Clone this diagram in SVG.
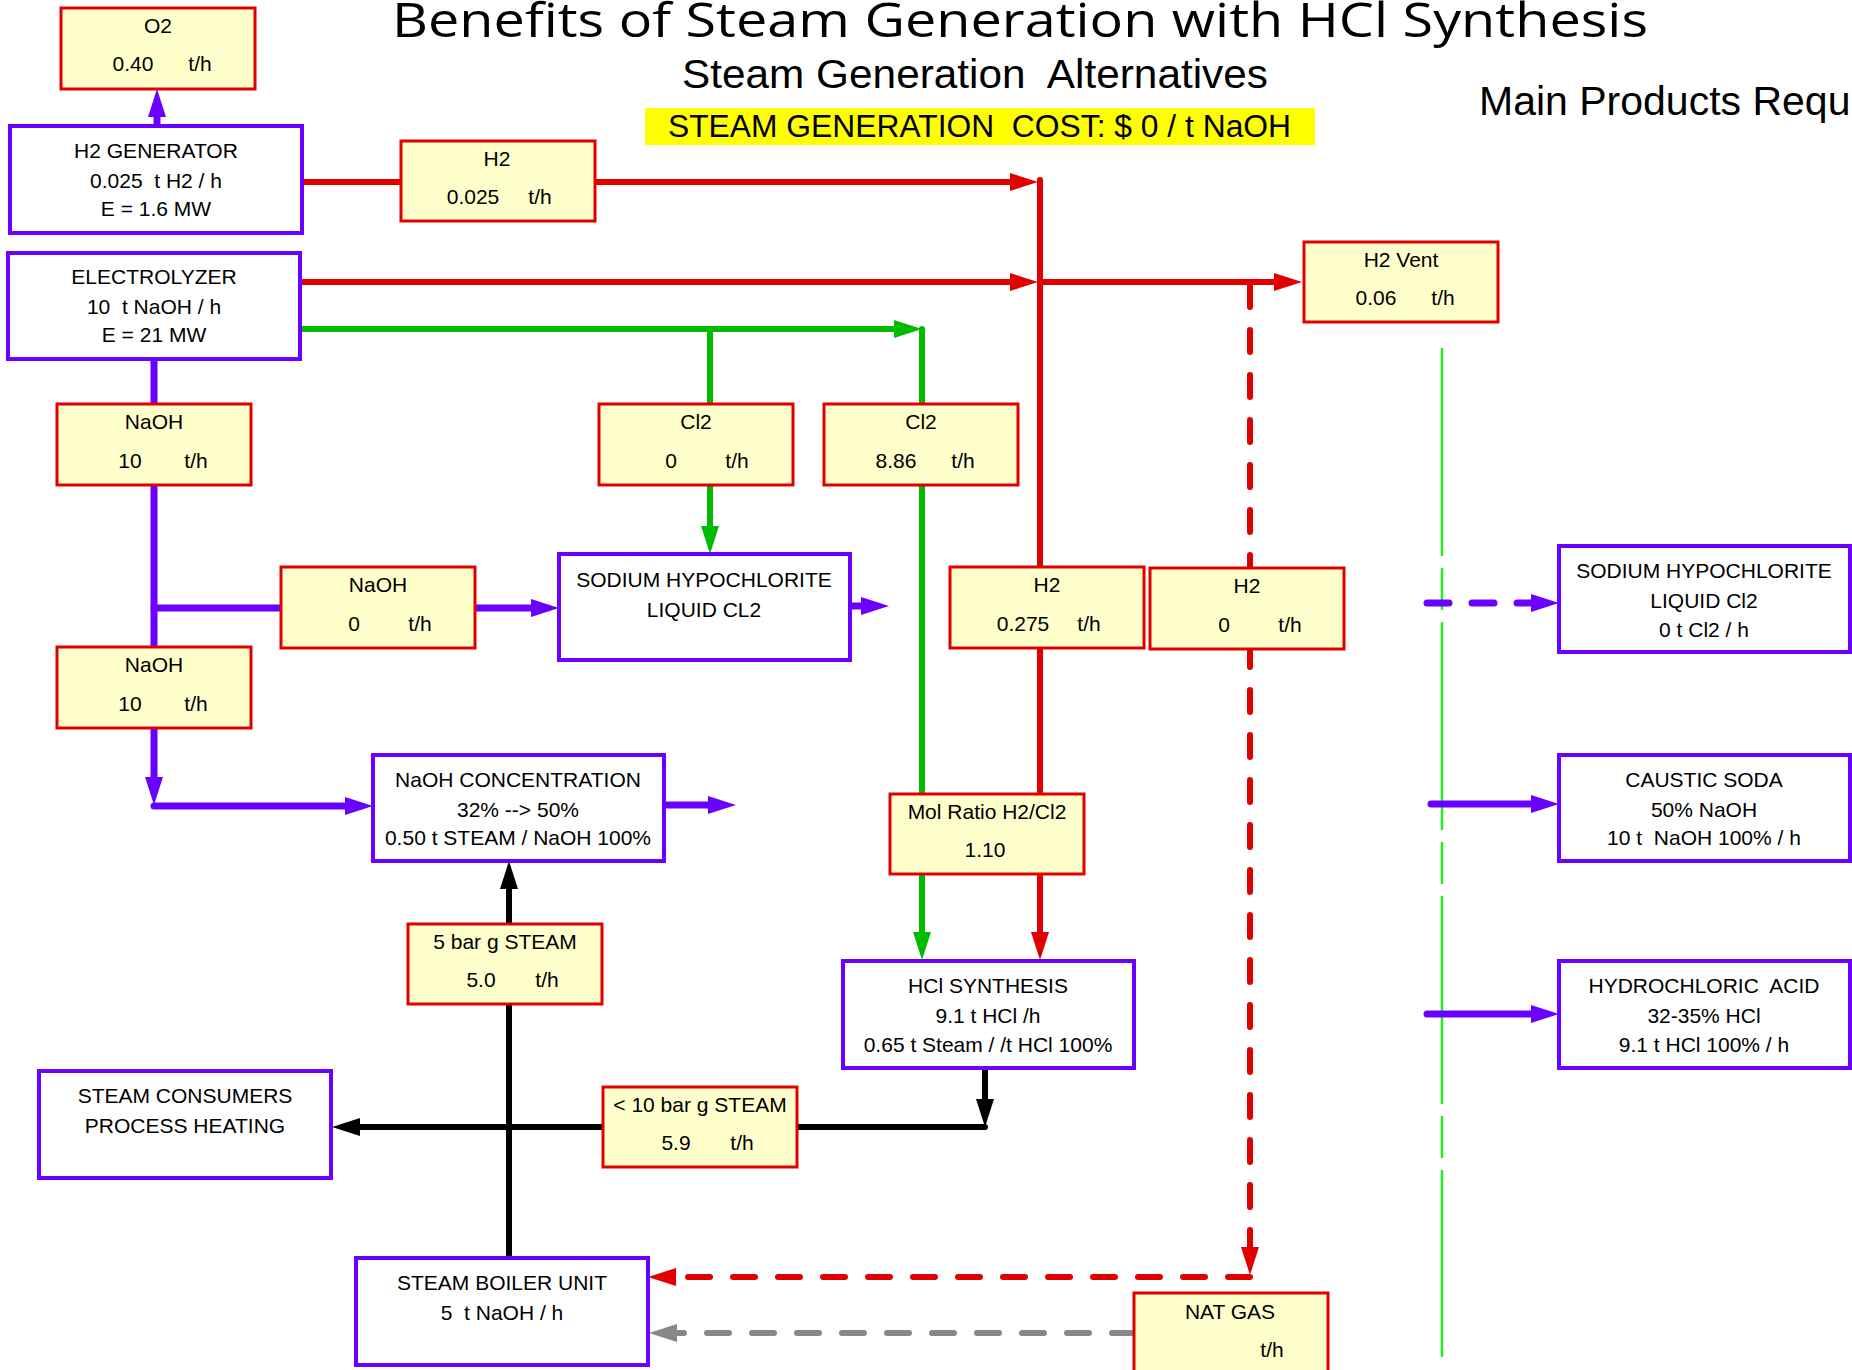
<svg xmlns="http://www.w3.org/2000/svg" width="1852" height="1370" viewBox="0 0 1852 1370">
<defs>
<style>
.pb{fill:#ffffff;stroke:#6a00ff;stroke-width:4}
.rb{fill:#ffffcc;stroke:#e00000;stroke-width:3}
.t{font-family:"Liberation Sans",Arial,sans-serif;font-size:21px;fill:#000;text-anchor:middle}
.f{fill:none;stroke-width:6;stroke-linecap:round;stroke-linejoin:round}
.pu{stroke:#6a00ff;stroke-width:7}
.re{stroke:#e00000}
.gr{stroke:#00bb00}
.bk{stroke:#000000}
.gy{stroke:#888888}
.da{stroke-dasharray:22 23}
</style>
<marker id="ap" viewBox="0 0 28 18" markerUnits="userSpaceOnUse" markerWidth="28" markerHeight="18" refX="12" refY="9" orient="auto"><path d="M0,0 L28,9 L0,18 z" fill="#6a00ff"/></marker>
<marker id="ar" viewBox="0 0 28 18" markerUnits="userSpaceOnUse" markerWidth="28" markerHeight="18" refX="12" refY="9" orient="auto"><path d="M0,0 L28,9 L0,18 z" fill="#e00000"/></marker>
<marker id="ag" viewBox="0 0 28 18" markerUnits="userSpaceOnUse" markerWidth="28" markerHeight="18" refX="12" refY="9" orient="auto"><path d="M0,0 L28,9 L0,18 z" fill="#00bb00"/></marker>
<marker id="ak" viewBox="0 0 28 18" markerUnits="userSpaceOnUse" markerWidth="28" markerHeight="18" refX="12" refY="9" orient="auto"><path d="M0,0 L28,9 L0,18 z" fill="#000000"/></marker>
<marker id="ay" viewBox="0 0 28 18" markerUnits="userSpaceOnUse" markerWidth="28" markerHeight="18" refX="12" refY="9" orient="auto"><path d="M0,0 L28,9 L0,18 z" fill="#888888"/></marker>
</defs>
<rect width="1852" height="1370" fill="#ffffff"/>

<g id="titles">
<text x="392" y="37" font-family="Open Sans, sans-serif" font-size="47" textLength="1256" lengthAdjust="spacingAndGlyphs">Benefits of Steam Generation with HCl Synthesis</text>
<text x="682" y="88" font-family="Liberation Sans, Arial, sans-serif" font-size="41" textLength="586" lengthAdjust="spacingAndGlyphs">Steam Generation&#160; Alternatives</text>
<rect x="645" y="108" width="670" height="37" fill="#ffff00"/>
<text x="668" y="137" font-family="Liberation Sans, Arial, sans-serif" font-size="31" textLength="623" lengthAdjust="spacingAndGlyphs">STEAM GENERATION&#160; COST: $ 0 / t NaOH</text>
<text x="1479" y="115" font-family="Liberation Sans, Arial, sans-serif" font-size="41">Main Products Requ</text>
</g>

<g id="connectors">
<path d="M1442,348 L1442,1357" fill="none" stroke="#22ee22" stroke-width="2.5" stroke-dasharray="208 12 42 12"/>
<path class="f re" d="M302,182 L1022,182" marker-end="url(#ar)"/>
<path class="f re" d="M300,282 L1022,282" marker-end="url(#ar)"/>
<path class="f re" d="M1040,180 L1040,944" marker-end="url(#ar)"/>
<path class="f re" d="M1040,282 L1286,282" marker-end="url(#ar)"/>
<path class="f re da" d="M1250,285 L1250,1259" marker-end="url(#ar)"/>
<path class="f re da" d="M1250,1277 L664,1277" marker-end="url(#ar)"/>
<path class="f gy da" d="M1134,1333 L665,1333" marker-end="url(#ay)"/>
<path class="f gr" d="M300,329 L906,329" marker-end="url(#ag)"/>
<path class="f gr" d="M922,329 L922,944" marker-end="url(#ag)"/>
<path class="f gr" d="M710,329 L710,538" marker-end="url(#ag)"/>
<path class="f pu" d="M157,126 L157,105" marker-end="url(#ap)"/>
<path class="f pu" d="M154,359 L154,647"/>
<path class="f pu" d="M154,608 L281,608"/>
<path class="f pu" d="M475,608 L543,608" marker-end="url(#ap)"/>
<path class="f pu" d="M154,728 L154,789" marker-end="url(#ap)"/>
<path class="f pu" d="M154,806 L357,806" marker-end="url(#ap)"/>
<path class="f pu" d="M850,606 L873,606" marker-end="url(#ap)"/>
<path class="f pu" d="M664,805 L720,805" marker-end="url(#ap)"/>
<path class="f pu da" d="M1427,603 L1543,603" marker-end="url(#ap)"/>
<path class="f pu" d="M1431,804 L1543,804" marker-end="url(#ap)"/>
<path class="f pu" d="M1427,1014 L1543,1014" marker-end="url(#ap)"/>
<path class="f bk" d="M985,1068 L985,1111" marker-end="url(#ak)"/>
<path class="f bk" d="M985,1127 L348,1127" marker-end="url(#ak)"/>
<path class="f bk" d="M509,1258 L509,877" marker-end="url(#ak)"/>
</g>

<g id="o2"><rect class="rb" x="61" y="8" width="194" height="81"/><text class="t" x="158" y="33">O2</text><text class="t" x="133" y="71">0.40</text><text class="t" x="200" y="71">t/h</text></g>
<g id="h2gen"><rect class="pb" x="10" y="126" width="292" height="107"/><text class="t" x="156" y="158">H2 GENERATOR</text><text class="t" x="156" y="188">0.025&#160; t H2 / h</text><text class="t" x="156" y="216">E = 1.6 MW</text></g>
<g id="electrolyzer"><rect class="pb" x="8" y="253" width="292" height="106"/><text class="t" x="154" y="284">ELECTROLYZER</text><text class="t" x="154" y="314">10&#160; t NaOH / h</text><text class="t" x="154" y="342">E = 21 MW</text></g>
<g id="h2-a"><rect class="rb" x="401" y="141" width="194" height="80"/><text class="t" x="497" y="166">H2</text><text class="t" x="473" y="204">0.025</text><text class="t" x="540" y="204">t/h</text></g>
<g id="h2vent"><rect class="rb" x="1304" y="242" width="194" height="80"/><text class="t" x="1401" y="267">H2 Vent</text><text class="t" x="1376" y="305">0.06</text><text class="t" x="1443" y="305">t/h</text></g>
<g id="naoh-1"><rect class="rb" x="57" y="404" width="194" height="81"/><text class="t" x="154" y="429">NaOH</text><text class="t" x="130" y="468">10</text><text class="t" x="196" y="468">t/h</text></g>
<g id="cl2-a"><rect class="rb" x="599" y="404" width="194" height="81"/><text class="t" x="696" y="429">Cl2</text><text class="t" x="671" y="468">0</text><text class="t" x="737" y="468">t/h</text></g>
<g id="cl2-b"><rect class="rb" x="824" y="404" width="194" height="81"/><text class="t" x="921" y="429">Cl2</text><text class="t" x="896" y="468">8.86</text><text class="t" x="963" y="468">t/h</text></g>
<g id="naoh-0"><rect class="rb" x="281" y="567" width="194" height="81"/><text class="t" x="378" y="592">NaOH</text><text class="t" x="354" y="631">0</text><text class="t" x="420" y="631">t/h</text></g>
<g id="sodium-hypo"><rect class="pb" x="559" y="554" width="291" height="106"/><text class="t" x="704" y="587">SODIUM HYPOCHLORITE</text><text class="t" x="704" y="617">LIQUID CL2</text></g>
<g id="naoh-2"><rect class="rb" x="57" y="647" width="194" height="81"/><text class="t" x="154" y="672">NaOH</text><text class="t" x="130" y="711">10</text><text class="t" x="196" y="711">t/h</text></g>
<g id="naoh-conc"><rect class="pb" x="373" y="755" width="291" height="106"/><text class="t" x="518" y="787">NaOH CONCENTRATION</text><text class="t" x="518" y="817">32% --&gt; 50%</text><text class="t" x="518" y="845">0.50 t STEAM / NaOH 100%</text></g>
<g id="h2-b"><rect class="rb" x="950" y="567" width="194" height="81"/><text class="t" x="1047" y="592">H2</text><text class="t" x="1023" y="631">0.275</text><text class="t" x="1089" y="631">t/h</text></g>
<g id="h2-c"><rect class="rb" x="1150" y="568" width="194" height="81"/><text class="t" x="1247" y="593">H2</text><text class="t" x="1224" y="632">0</text><text class="t" x="1290" y="632">t/h</text></g>
<g id="mol-ratio"><rect class="rb" x="890" y="794" width="194" height="80"/><text class="t" x="987" y="819">Mol Ratio H2/Cl2</text><text class="t" x="985" y="857">1.10</text></g>
<g id="hcl-synthesis"><rect class="pb" x="843" y="961" width="291" height="107"/><text class="t" x="988" y="993">HCl SYNTHESIS</text><text class="t" x="988" y="1023">9.1 t HCl /h</text><text class="t" x="988" y="1052">0.65 t Steam / /t HCl 100%</text></g>
<g id="steam-5"><rect class="rb" x="408" y="924" width="194" height="80"/><text class="t" x="505" y="949">5 bar g STEAM</text><text class="t" x="481" y="987">5.0</text><text class="t" x="547" y="987">t/h</text></g>
<g id="steam-10"><rect class="rb" x="603" y="1087" width="194" height="80"/><text class="t" x="700" y="1112">&lt; 10 bar g STEAM</text><text class="t" x="676" y="1150">5.9</text><text class="t" x="742" y="1150">t/h</text></g>
<g id="steam-consumers"><rect class="pb" x="39" y="1071" width="292" height="107"/><text class="t" x="185" y="1103">STEAM CONSUMERS</text><text class="t" x="185" y="1133">PROCESS HEATING</text></g>
<g id="steam-boiler"><rect class="pb" x="356" y="1258" width="292" height="107"/><text class="t" x="502" y="1290">STEAM BOILER UNIT</text><text class="t" x="502" y="1320">5&#160; t NaOH / h</text></g>
<g id="nat-gas"><rect class="rb" x="1134" y="1293" width="194" height="80"/><text class="t" x="1230" y="1319">NAT GAS</text><text class="t" x="1272" y="1357">t/h</text></g>
<g id="prod-sodium-hypo"><rect class="pb" x="1559" y="546" width="291" height="106"/><text class="t" x="1704" y="578">SODIUM HYPOCHLORITE</text><text class="t" x="1704" y="608">LIQUID Cl2</text><text class="t" x="1704" y="637">0 t Cl2 / h</text></g>
<g id="prod-caustic"><rect class="pb" x="1559" y="755" width="291" height="106"/><text class="t" x="1704" y="787">CAUSTIC SODA</text><text class="t" x="1704" y="817">50% NaOH</text><text class="t" x="1704" y="845">10 t&#160; NaOH 100% / h</text></g>
<g id="prod-hcl"><rect class="pb" x="1559" y="961" width="291" height="107"/><text class="t" x="1704" y="993">HYDROCHLORIC&#160; ACID</text><text class="t" x="1704" y="1023">32-35% HCl</text><text class="t" x="1704" y="1052">9.1 t HCl 100% / h</text></g>
</svg>
